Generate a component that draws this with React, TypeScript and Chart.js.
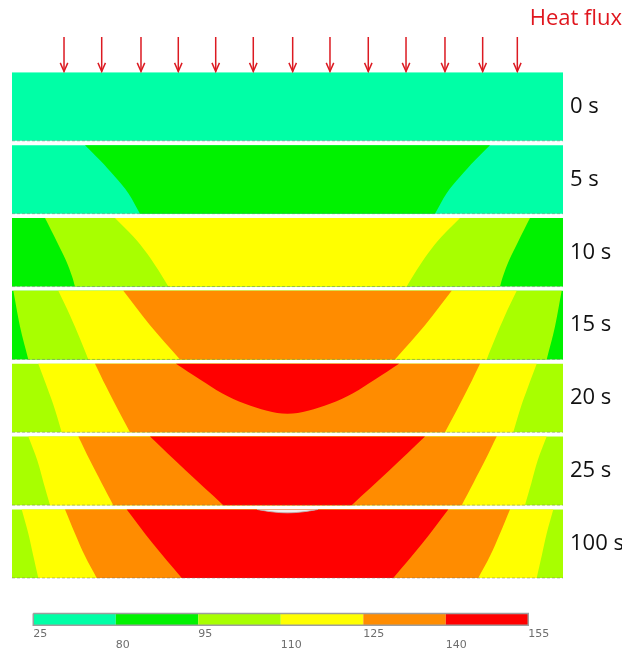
import React, { useEffect, useRef } from 'react';
import { Chart, registerables } from 'chart.js';

Chart.register(...registerables);

// ---------- data ----------
const timeLabels = ['0 s', '5 s', '10 s', '15 s', '20 s', '25 s', '100 s'];
const levels = [25, 80, 95, 110, 125, 140, 155];
const bandColors = ['#00ffa6', '#00f200', '#a8ff00', '#ffff00', '#ff8c00', '#ff0000', '#efefef'];
// plate position (% of width) of the heat-flux arrows
const arrowX = [9.44, 16.28, 23.41, 30.18, 36.97, 43.79, 50.94, 57.71, 64.66, 71.51, 78.58, 85.42, 91.71];
// band index filling each panel before the contours
const panelBase = [0, 0, 1, 1, 2, 2, 2];

// left-half iso-lines: [x (% of width), depth (0 = top, 1 = bottom)]
const c5s_80 = [[13.25, 0], [15.97, 0.22], [18.69, 0.46], [21.11, 0.7], [23.23, 1]];
const c10s_95 = [[5.99, 0], [8.17, 0.35], [9.8, 0.62], [10.89, 0.85], [11.43, 1]];
const c10s_110 = [[18.69, 0], [22.01, 0.27], [24.45, 0.51], [26.55, 0.76], [28.37, 1]];
const c15s_95 = [[0.24, 0], [1.45, 0.52], [2.96, 1]];
const c15s_110 = [[8.4, 0], [10.53, 0.36], [12.34, 0.7], [13.85, 1]];
const c15s_125 = [[20.2, 0], [25.05, 0.5], [30.49, 1]];
const c20s_110 = [[4.77, 0], [6.3, 0.33], [7.8, 0.67], [9.02, 1]];
const c20s_125 = [[15.06, 0], [17.06, 0.33], [19.24, 0.67], [21.42, 1]];
const c20s_140 = [[29.76, 0], [34.12, 0.23], [38.11, 0.43], [42.29, 0.585], [46.28, 0.685], [50, 0.73]];
const c25s_110 = [[2.96, 0], [4.6, 0.35], [5.75, 0.68], [6.9, 1]];
const c25s_125 = [[12.03, 0], [14.16, 0.35], [16.28, 0.68], [18.38, 1]];
const c25s_140 = [[25.05, 0], [31.58, 0.5], [38.35, 1]];
const c100s_110 = [[1.76, 0], [2.96, 0.35], [3.87, 0.68], [4.77, 1]];
const c100s_125 = [[9.62, 0], [11.43, 0.35], [13.25, 0.68], [15.37, 1]];
const c100s_140 = [[20.82, 0], [25.59, 0.5], [30.8, 1]];
const c100s_155 = [[44.46, 0], [47.19, 0.035], [50, 0.05]];

const panelContours: [number, number[][]][][] = [
  [],
  [[1, c5s_80]],
  [[2, c10s_95], [3, c10s_110]],
  [[2, c15s_95], [3, c15s_110], [4, c15s_125]],
  [[3, c20s_110], [4, c20s_125], [5, c20s_140]],
  [[3, c25s_110], [4, c25s_125], [5, c25s_140]],
  [[3, c100s_110], [4, c100s_125], [5, c100s_140], [6, c100s_155]],
];

// ---------- geometry of the layout (in axis units) ----------
const PANEL_H = 0.941; // panel height as a fraction of the panel pitch
const Y_MAX = 7.6;
const CB_TOP = 7.43;
const CB_BOT = 7.59;

type P = { x: number; y: number };

// symmetric region: left iso-line, mirrored right iso-line; corners doubled so they stay sharp
function regionPoints(panel: number, pts: number[][]): P[] {
  const toXY = ([x, t]: number[]): P => ({ x, y: panel + t * PANEL_H });
  const left = pts.map(toXY);
  const last = pts[pts.length - 1];
  const right = pts
    .slice()
    .reverse()
    .filter((p) => p[0] !== 50)
    .map(([x, t]) => ({ x: 100 - x, y: panel + t * PANEL_H }));
  const first = left[0];
  const end = right[right.length - 1];
  if (last[0] === 50) return [first, ...left, ...right, end];
  return [first, ...left, left[left.length - 1], right[0], ...right, end];
}

function rect(x0: number, x1: number, y0: number, y1: number): P[] {
  return [
    { x: x0, y: y0 },
    { x: x1, y: y0 },
    { x: x1, y: y1 },
    { x: x0, y: y1 },
  ];
}

function buildDatasets() {
  const ds: any[] = [];
  const base = {
    showLine: true,
    pointRadius: 0,
    pointHoverRadius: 0,
    borderWidth: 0,
  };
  timeLabels.forEach((_, i) => {
    ds.push({
      ...base,
      data: rect(0, 100, i, i + PANEL_H),
      fill: 'shape',
      backgroundColor: bandColors[panelBase[i]],
      tension: 0,
    });
    panelContours[i].forEach(([band, pts]) => {
      ds.push({
        ...base,
        data: regionPoints(i, pts),
        fill: 'shape',
        backgroundColor: bandColors[band],
        borderColor: band === 6 ? '#b8b8b8' : bandColors[band],
        borderWidth: band === 6 ? 0.8 : 0,
        tension: 0.35,
      });
    });
    // faint panel edge
    ds.push({
      ...base,
      data: [
        { x: 0, y: i + PANEL_H },
        { x: 100, y: i + PANEL_H },
      ],
      borderColor: 'rgba(110,110,110,0.45)',
      borderWidth: 1,
      borderDash: [3, 2],
      fill: false,
      tension: 0,
    });
  });
  // heat flux arrows
  const red = '#dc1a22';
  arrowX.forEach((x) => {
    ds.push({
      ...base,
      data: [
        { x, y: -0.484 },
        { x, y: -0.012 },
      ],
      borderColor: red,
      borderWidth: 1.5,
      fill: false,
      tension: 0,
      clip: false,
    });
    ds.push({
      ...base,
      data: [
        { x: x - 0.68, y: -0.13 },
        { x, y: -0.012 },
        { x: x + 0.68, y: -0.13 },
      ],
      borderColor: red,
      borderWidth: 1.5,
      fill: false,
      tension: 0,
      clip: false,
    });
  });
  // colour bar
  for (let k = 0; k < levels.length - 1; k++) {
    ds.push({
      ...base,
      xAxisID: 'x2',
      data: rect(k, k + 1, CB_TOP, CB_BOT),
      fill: 'shape',
      backgroundColor: bandColors[k],
      tension: 0,
    });
  }
  ds.push({
    ...base,
    xAxisID: 'x2',
    data: [...rect(0, levels.length - 1, CB_TOP, CB_BOT), { x: 0, y: CB_TOP }],
    borderColor: '#9e9e9e',
    borderWidth: 1.5,
    fill: false,
    tension: 0,
    clip: false,
  });
  const n = ds.length;
  ds.forEach((d, i) => (d.order = n - i));
  return ds;
}

export default function App() {
  const ref = useRef<HTMLCanvasElement>(null);
  useEffect(() => {
    document.body.style.margin = '0';
    const chart = new Chart(ref.current as HTMLCanvasElement, {
      type: 'scatter',
      data: { datasets: buildDatasets() },
      options: {
        responsive: false,
        animation: false,
        events: [],
        layout: { padding: { left: 12, right: 9, top: 0, bottom: 0 } },
        plugins: {
          legend: { display: false },
          tooltip: { enabled: false },
          title: {
            display: true,
            text: 'Heat flux',
            align: 'end',
            color: '#e0161e',
            font: { family: 'Open Sans', size: 22, weight: 'normal', lineHeight: 1.2 },
            padding: { top: 6, bottom: 39.9 },
          },
        },
        scales: {
          x: { type: 'linear', min: 0, max: 100, display: false },
          x2: {
            type: 'linear',
            position: 'bottom',
            min: -0.258,
            max: 6.421,
            grid: { display: false, drawTicks: false },
            border: { display: false },
            afterBuildTicks: (scale: any) => {
              scale.ticks = levels.map((_, k) => ({ value: k }));
            },
            afterFit: (scale: any) => {
              scale.height = 28;
            },
            ticks: {
              autoSkip: false,
              maxRotation: 0,
              minRotation: 0,
              align: 'start',
              padding: 3,
              color: '#6e6e6e',
              font: { family: 'DejaVu Sans', size: 11, lineHeight: 0.96 },
              callback: (_v: any, k: number) =>
                k % 2 === 0 ? [String(levels[k]), ''] : ['', String(levels[k])],
            },
          },
          y: {
            type: 'linear',
            position: 'right',
            reverse: true,
            min: 0,
            max: Y_MAX,
            grid: { display: false, drawTicks: false },
            border: { display: false },
            afterBuildTicks: (scale: any) => {
              scale.ticks = timeLabels.map((_, i) => ({ value: i + PANEL_H / 2 }));
            },
            afterFit: (scale: any) => {
              scale.width = 59;
            },
            ticks: {
              autoSkip: false,
              padding: 7,
              color: '#111111',
              font: { family: 'Open Sans', size: 22 },
              callback: (_v: any, i: number) => timeLabels[i],
            },
          },
        },
      } as any,
    });
    return () => chart.destroy();
  }, []);
  return (
    <div style={{ width: 631, height: 654 }}>
      <canvas ref={ref} width={631} height={654} style={{ display: 'block', width: 631, height: 654 }} />
    </div>
  );
}
